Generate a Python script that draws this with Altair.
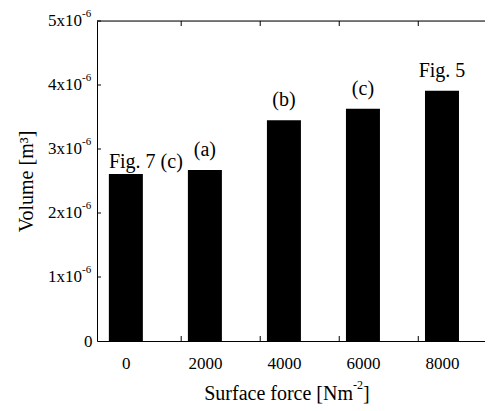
import altair as alt
import pandas as pd

# ---- data ----
forces = [0, 2000, 4000, 6000, 8000]
volumes = [2.61e-6, 2.67e-6, 3.45e-6, 3.63e-6, 3.91e-6]
annotations = ["Fig. 7 (c)", "(a)", "(b)", "(c)", "Fig. 5"]
y_tick_values = [1e-6, 2e-6, 3e-6, 4e-6, 5e-6]
y_tick_mantissas = ["1x10", "2x10", "3x10", "4x10", "5x10"]
y_tick_exponents = ["-6", "-6", "-6", "-6", "-6"]
x_label_values = [0, 2000, 4000, 6000, 8000]
x_minor_ticks = [1400, 3400, 5400, 7400]
x_domain = [-604, 8962]
y_domain = [0, 5e-6]
x_title_parts = ["Surface force [Nm", "-2", "]"]
y_title = "Volume [m³]"

FONT = "'Liberation Serif', 'Times New Roman', 'DejaVu Serif', serif"
W, H = 388, 320

bars_df = pd.DataFrame({"force": forces, "volume": volumes, "label": annotations})
ytick_df = pd.DataFrame({"v": y_tick_values, "m": y_tick_mantissas, "e": y_tick_exponents})
xtick_df = pd.DataFrame({"t": x_minor_ticks})
one_df = pd.DataFrame({"a": [0]})

xs = alt.Scale(domain=x_domain, nice=False, zero=False)
ys = alt.Scale(domain=y_domain, nice=False)

x_axis = alt.Axis(values=x_label_values, format="d", tickSize=0, labelPadding=14,
                  labelFontSize=17, labelFont=FONT, labelColor="black", grid=False,
                  domainColor="black", title="")
y_axis = alt.Axis(values=[0], format="d", tickSize=0, labelPadding=5,
                  labelFontSize=17, labelFont=FONT, labelColor="black", grid=False,
                  domainColor="black", title=y_title, titleFont=FONT,
                  titleFontSize=20, titleFontWeight="normal", titleColor="black",
                  titleX=-71, titleBaseline="middle")

bars = alt.Chart(bars_df).mark_bar(color="black", size=34).encode(
    x=alt.X("force:Q", scale=xs, axis=x_axis),
    y=alt.Y("volume:Q", scale=ys, axis=y_axis),
)

ann_main = alt.Chart(bars_df.iloc[1:]).mark_text(
    font=FONT, fontSize=20, color="black", baseline="alphabetic", dy=-14
).encode(x=alt.X("force:Q", scale=xs), y=alt.Y("volume:Q", scale=ys), text="label:N")

ann_first = alt.Chart(bars_df.iloc[:1]).mark_text(
    font=FONT, fontSize=20, color="black", baseline="alphabetic", dy=-6, dx=20
).encode(x=alt.X("force:Q", scale=xs), y=alt.Y("volume:Q", scale=ys), text="label:N")

ytick_marks = alt.Chart(ytick_df).mark_rule(color="black").encode(
    y=alt.Y("v:Q", scale=ys), x=alt.value(0), x2=alt.value(4))

ylab_main = alt.Chart(ytick_df).mark_text(
    font=FONT, fontSize=17, color="black", align="right", baseline="middle"
).encode(y=alt.Y("v:Q", scale=ys), x=alt.value(-15), text="m:N")

ylab_exp = alt.Chart(ytick_df).mark_text(
    font=FONT, fontSize=11, color="black", align="left", baseline="middle", dy=-7
).encode(y=alt.Y("v:Q", scale=ys), x=alt.value(-15), text="e:N")

xtick_bottom = alt.Chart(xtick_df).mark_rule(color="black").encode(
    x=alt.X("t:Q", scale=xs), y=alt.value(H), y2=alt.value(H - 5))
xtick_top = alt.Chart(xtick_df).mark_rule(color="black").encode(
    x=alt.X("t:Q", scale=xs), y=alt.value(0), y2=alt.value(5))

top_line = alt.Chart(one_df).mark_rule(color="black").encode(
    x=alt.value(0), x2=alt.value(W), y=alt.value(0))

# x-axis title with a real superscript
xt_main = alt.Chart(one_df).mark_text(
    font=FONT, fontSize=20, color="black", align="right", baseline="alphabetic",
    text=x_title_parts[0]).encode(x=alt.value(256), y=alt.value(H + 59))
xt_sup = alt.Chart(one_df).mark_text(
    font=FONT, fontSize=12, color="black", align="left", baseline="alphabetic",
    dy=-11, text=x_title_parts[1]).encode(x=alt.value(256), y=alt.value(H + 59))
xt_end = alt.Chart(one_df).mark_text(
    font=FONT, fontSize=20, color="black", align="left", baseline="alphabetic",
    text=x_title_parts[2]).encode(x=alt.value(266), y=alt.value(H + 59))

chart = alt.layer(
    bars, ann_main, ann_first, ytick_marks, ylab_main, ylab_exp,
    xtick_bottom, xtick_top, top_line, xt_main, xt_sup, xt_end
).properties(
    width=W, height=H, autosize="none",
    padding={"left": 89, "top": 13, "right": 0, "bottom": 65},
).configure_view(strokeWidth=0).configure(background="white", font=FONT)

chart.save("out.html", embed_options={"renderer": "svg", "actions": False})
